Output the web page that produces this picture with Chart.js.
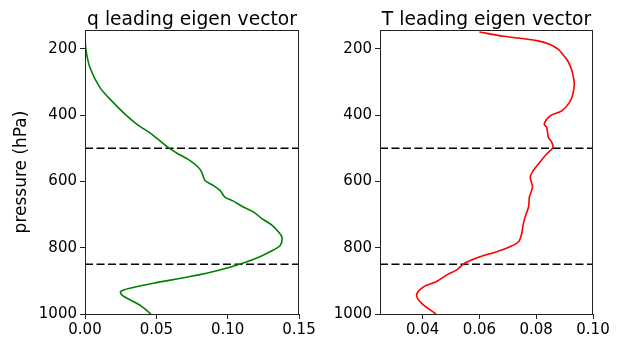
<!DOCTYPE html>
<html>
<head>
<meta charset="utf-8">
<script src="https://cdn.jsdelivr.net/npm/chart.js@4"></script>
<style>
  body { margin: 0; background: #fff; }
  #wrap { position: relative; width: 619px; height: 342px; }
  .box { position: absolute; top: 0; height: 342px; }
  #qBox { left: 0; width: 330px; }
  #tBox { left: 300px; width: 319px; }
</style>
</head>
<body>
<div id="wrap">
  <div class="box" id="qBox"><canvas id="qChart"></canvas></div>
  <div class="box" id="tBox"><canvas id="tChart"></canvas></div>
</div>
<script>
/* data */
const qPressure = [143, 197, 257, 317, 357, 397, 427, 457, 498, 517, 537, 557, 572, 597, 612, 627, 647, 657, 677, 692, 712, 732, 752, 767, 792, 807, 827, 846, 867, 887, 907, 922, 932, 942, 957, 977, 1000];
const qValues = [0.0, 0.0005, 0.0035, 0.0105, 0.0187, 0.028, 0.0362, 0.0467, 0.0584, 0.0654, 0.0736, 0.0794, 0.0818, 0.0841, 0.0899, 0.0946, 0.098, 0.103, 0.111, 0.118, 0.124, 0.131, 0.1355, 0.138, 0.137, 0.132, 0.1226, 0.111, 0.0946, 0.0736, 0.0479, 0.0315, 0.025, 0.0257, 0.0315, 0.0397, 0.0462];

const tPressure = [149, 162, 175, 187, 202, 217, 232, 252, 277, 307, 337, 362, 387, 402, 427, 437, 467, 482, 497, 517, 547, 567, 587, 617, 647, 677, 707, 727, 757, 782, 797, 812, 827, 846, 867, 882, 902, 919, 942, 967, 1000];
const tValues = [0.06, 0.0685, 0.0802, 0.0849, 0.0879, 0.0894, 0.0908, 0.092, 0.0929, 0.0934, 0.0929, 0.0917, 0.089, 0.0849, 0.0828, 0.0837, 0.0843, 0.0855, 0.0859, 0.0837, 0.0808, 0.079, 0.0779, 0.0787, 0.0776, 0.0773, 0.0761, 0.0755, 0.0749, 0.0738, 0.0708, 0.0661, 0.0602, 0.0549, 0.052, 0.0485, 0.0449, 0.0402, 0.0379, 0.0396, 0.0447];

const refLevels = [500, 850];
const pressureTicks = [200, 400, 600, 800, 1000];
const qTicks = [0, 0.05, 0.10, 0.15];
const tTicks = [0.04, 0.06, 0.08, 0.10];

const FONT = "DejaVu Sans";

function toPoints(xs, ys) {
  return xs.map((x, i) => ({ x, y: ys[i] }));
}

/* frame + title plugin */
function framePlugin(title, yLabel) {
  return {
    id: "frame",
    afterDraw(chart) {
      const { ctx, chartArea } = chart;
      ctx.save();
      ctx.strokeStyle = "#222";
      ctx.lineWidth = 1;
      ctx.strokeRect(chartArea.left + 0.5, chartArea.top + 0.5,
        chartArea.right - chartArea.left - 1, chartArea.bottom - chartArea.top);
      ctx.fillStyle = "#000";
      ctx.font = `18.7px "${FONT}"`;
      ctx.textAlign = "center";
      ctx.textBaseline = "alphabetic";
      ctx.fillText(title, (chartArea.left + chartArea.right) / 2, 25);
      if (yLabel) {
        ctx.font = `17px "${FONT}"`;
        ctx.translate(22, (chartArea.top + chartArea.bottom) / 2);
        ctx.rotate(-Math.PI / 2);
        ctx.textBaseline = "middle";
        ctx.fillText(yLabel, 0, 0);
      }
      ctx.restore();
    }
  };
}

function makeChart(canvas, opts) {
  const refSets = refLevels.map(p => ({
    data: [{ x: opts.xMin, y: p }, { x: opts.xMax, y: p }],
    borderColor: "#000",
    borderWidth: 1.5,
    borderDash: [8, 3.5],
    pointRadius: 0,
    showLine: true
  }));

  return new Chart(canvas, {
    type: "scatter",
    data: {
      datasets: [
        {
          data: toPoints(opts.values, opts.pressure),
          borderColor: opts.color,
          borderWidth: 1.6,
          pointRadius: 0,
          showLine: true,
          tension: 0.3
        },
        ...refSets
      ]
    },
    options: {
      responsive: true,
      maintainAspectRatio: false,
      animation: false,
      layout: { padding: { top: 30, right: opts.padRight, left: 0, bottom: 0 } },
      plugins: { legend: { display: false }, tooltip: { enabled: false } },
      scales: {
        x: {
          type: "linear",
          min: opts.xMin,
          max: opts.xMax,
          afterBuildTicks: axis => { axis.ticks = opts.xTicks.map(v => ({ value: v })); },
          afterFit: axis => {
            axis.height = 28;
            axis.paddingLeft = 0;
            axis.paddingRight = 0;
          },
          grid: { drawOnChartArea: false, drawTicks: true, tickLength: 5, color: "#222" },
          border: { display: true, color: "#222", width: 1 },
          ticks: {
            color: "#000",
            padding: 2,
            maxRotation: 0,
            font: { family: FONT, size: 15 },
            callback: v => v.toFixed(2)
          }
        },
        y: {
          type: "linear",
          reverse: true,
          min: 143,
          max: 1000,
          afterBuildTicks: axis => { axis.ticks = pressureTicks.map(v => ({ value: v })); },
          afterFit: axis => {
            axis.width = opts.yWidth;
            axis.paddingTop = 0;
            axis.paddingBottom = 0;
          },
          grid: { drawOnChartArea: false, drawTicks: true, tickLength: 5, color: "#222" },
          border: { display: true, color: "#222", width: 1 },
          ticks: {
            color: "#000",
            padding: 3,
            font: { family: FONT, size: 15 },
            callback: v => String(v)
          }
        }
      }
    },
    plugins: [framePlugin(opts.title, opts.yLabel)]
  });
}

const qChart = makeChart(document.querySelector("#qChart"), {
  values: qValues,
  pressure: qPressure,
  color: "#008000",
  xMin: 0,
  xMax: 0.15,
  xTicks: qTicks,
  yWidth: 85,
  padRight: 31,
  title: "q leading eigen vector",
  yLabel: "pressure (hPa)"
});

const tChart = makeChart(document.querySelector("#tChart"), {
  values: tValues,
  pressure: tPressure,
  color: "#ff0000",
  xMin: 0.025,
  xMax: 0.10,
  xTicks: tTicks,
  yWidth: 80,
  padRight: 26,
  title: "T leading eigen vector",
  yLabel: null
});
</script>
</body>
</html>
